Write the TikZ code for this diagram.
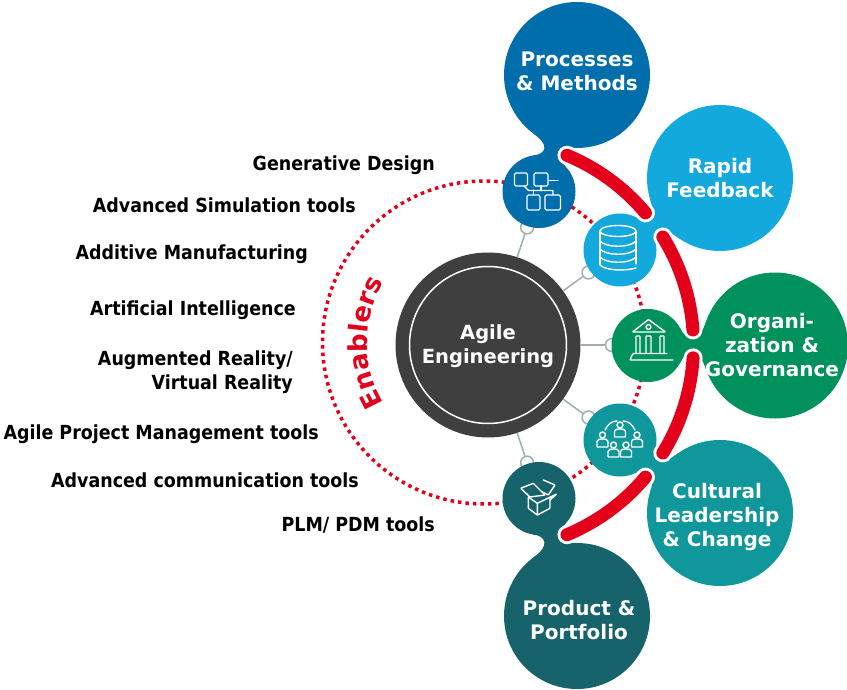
\documentclass[tikz,border=0pt]{standalone}
\usepackage{fontspec}
\usepackage{tikz}
\usetikzlibrary{calc, decorations.text}
\setmainfont{DejaVu Sans}
\newfontfamily\tightfont[FakeStretch=0.9]{DejaVu Sans}

\definecolor{procblue}{RGB}{0,110,170}
\definecolor{rapidblue}{RGB}{20,169,220}
\definecolor{orggreen}{RGB}{0,145,92}
\definecolor{cultteal}{RGB}{15,151,156}
\definecolor{prodteal}{RGB}{23,99,107}
\definecolor{enred}{RGB}{226,0,26}
\definecolor{hubgray}{RGB}{63,63,63}
\definecolor{spokegray}{RGB}{158,174,174}

% Neck between a small circle and its big circle
\newcommand{\neck}[3]{
    \fill[#3] ($(#1)!36.5pt!28:(#2)$) .. controls ($(#1)!38pt!7:(#2)$) and ($(#2)!75pt!-3:(#1)$) .. ($(#2)!73pt!-19:(#1)$)
        -- ($(#2)!73pt!19:(#1)$) .. controls ($(#2)!75pt!3:(#1)$) and ($(#1)!38pt!-7:(#2)$) .. ($(#1)!36.5pt!-28:(#2)$) -- cycle;
}

\begin{document}
\begin{tikzpicture}[
        x=1pt, y=-1pt,
        small/.style={circle, minimum size=73pt, inner sep=0pt},
        big/.style={circle, minimum size=146pt, inner sep=0pt},
        knob/.style={circle, draw=spokegray, fill=white, line width=1.5pt, minimum size=13pt, inner sep=0pt},
        spoke/.style={draw=spokegray, line width=1.5pt},
        bigtext/.style={text=white, align=center, font=\fontsize{20}{24}\selectfont\bfseries},
        tool/.style={text=black, align=right, anchor=east, inner sep=0pt, font=\tightfont\fontsize{19.4}{24}\selectfont\bfseries},
        bar/.style={line width=13pt, line cap=round, draw=enred},
        barhalo/.style={line width=19pt, line cap=round, draw=white},
        dotted ring/.style={draw=enred, line width=3.5pt, dash pattern=on 3.5pt off 4pt},
        icon/.style={draw=white, line width=1.4pt, line join=round, line cap=round, rounded corners=0.6pt},
        person/.pic={
            \draw[icon, fill=cultteal] (-5.5,14) -- (-5.5,9) .. controls (-5.5,5) and (5.5,5) .. (5.5,9) -- (5.5,14) -- cycle;
            \draw[icon, fill=cultteal] (0,2) circle[radius=3pt];
        }
    ]
    \useasboundingbox (0,0) rectangle (847,690);

    \coordinate (hubc) at (488,345);

    % Dotted ring behind the small circles
    \coordinate (ringc) at (484,342.5);
    \draw[dotted ring] (ringc) circle[radius=161.5pt];

    % Knobs on the spokes
    \node[knob] (kproc) at ($(hubc)+(71.6:124pt)$) {};
    \node[knob] (krapid) at ($(hubc)+(35.8:124pt)$) {};
    \node[knob] (korg) at ($(hubc)+(0:124pt)$) {};
    \node[knob] (kcult) at ($(hubc)+(-35.8:124pt)$) {};
    \node[knob] (kprod) at ($(hubc)+(-71.6:124pt)$) {};

    \node[circle, fill=hubgray, minimum size=185pt, inner sep=0pt] (agile) at (hubc) {};
    \draw[spoke] (agile) -- (kproc);
    \draw[spoke] (agile) -- (krapid);
    \draw[spoke] (agile) -- (korg);
    \draw[spoke] (agile) -- (kcult);
    \draw[spoke] (agile) -- (kprod);
    \node[circle, draw=white, line width=1.5pt, minimum size=157pt, inner sep=0pt] (agilering) at (hubc) {};
    \node[bigtext, font=\fontsize{19.5}{24}\selectfont\bfseries] (agiletext) at (488,346) {Agile\\Engineering};

    % Small circles
    \node[small, fill=procblue] (sproc) at (539,191.5) {};
    \node[small, fill=rapidblue] (srapid) at (620,250) {};
    \node[small, fill=orggreen] (sorg) at (648,345.5) {};
    \node[small, fill=cultteal] (scult) at (620,440) {};
    \node[small, fill=prodteal] (sprod) at (539,498.5) {};

    % Big circles
    \node[big, fill=procblue] (bproc) at (577,75) {};
    \node[big, fill=rapidblue] (brapid) at (720,178) {};
    \node[big, fill=orggreen] (borg) at (775,345.5) {};
    \node[big, fill=cultteal] (bcult) at (720,513) {};
    \node[big, fill=prodteal] (bprod) at (577,616) {};

    % Necks
    \neck{sproc}{bproc}{procblue}
    \neck{srapid}{brapid}{rapidblue}
    \neck{sorg}{borg}{orggreen}
    \neck{scult}{bcult}{cultteal}
    \neck{sprod}{bprod}{prodteal}

    % Red bars
    \draw[barhalo] ($(hubc)+(67.4:205.5pt)$) arc[start angle=67.4, end angle=40, radius=205.5pt];
    \draw[barhalo] ($(hubc)+(31.7:205.5pt)$) arc[start angle=31.7, end angle=4.2, radius=205.5pt];
    \draw[barhalo] ($(hubc)+(-3.6:205.5pt)$) arc[start angle=-3.6, end angle=-31.7, radius=205.5pt];
    \draw[barhalo] ($(hubc)+(-40:205.5pt)$) arc[start angle=-40, end angle=-67.4, radius=205.5pt];
    \draw[bar] ($(hubc)+(67.4:205.5pt)$) arc[start angle=67.4, end angle=40, radius=205.5pt];
    \draw[bar] ($(hubc)+(31.7:205.5pt)$) arc[start angle=31.7, end angle=4.2, radius=205.5pt];
    \draw[bar] ($(hubc)+(-3.6:205.5pt)$) arc[start angle=-3.6, end angle=-31.7, radius=205.5pt];
    \draw[bar] ($(hubc)+(-40:205.5pt)$) arc[start angle=-40, end angle=-67.4, radius=205.5pt];

    % Texts in the big circles
    \node[bigtext] (tproc) at (577,71) {Processes\\\& Methods};
    \node[bigtext] (trapid) at (720,178) {Rapid\\Feedback};
    \node[bigtext] (torg) at (772,345) {Organi-\\zation \&\\Governance};
    \node[bigtext] (tcult) at (717,517) {Cultural\\Leadership\\\& Change};
    \node[bigtext] (tprod) at (579,620) {Product \&\\Portfolio};

    % Enablers
    \path[decorate, decoration={text along path, text align=center, text color=enred,
        text={|\fontsize{26}{30}\selectfont\bfseries|Enablers}}]
        ($(ringc)+(211:117pt)$) arc[start angle=211, end angle=149, radius=117pt];

    % Tools on the left
    \node[tool] (tgen) at (435,165) {Generative Design};
    \node[tool] (tsim) at (356,205) {Advanced Simulation tools};
    \node[tool] (tadd) at (308,254) {Additive Manufacturing};
    \node[tool] (tart) at (296,310) {Artificial Intelligence};
    \node[tool] (taug) at (293,372) {Augmented Reality/\\Virtual Reality};
    \node[tool] (tapm) at (319,434) {Agile Project Management tools};
    \node[tool] (tcom) at (359,480) {Advanced communication tools};
    \node[tool] (tplm) at (435,525) {PLM/ PDM tools};

    % Icon: process chart
    \draw[icon, rounded corners=1.5pt] (514.5,173) rectangle (527.5,186);
    \draw[icon, rounded corners=1.5pt] (534,173) rectangle (548,186);
    \draw[icon, rounded corners=1.5pt] (527,195) rectangle (540,210);
    \draw[icon, rounded corners=1.5pt] (545,195) rectangle (560.5,210);
    \draw[icon] (548,180.5) -- (558,180.5);
    \draw[icon] (524,186) -- (528.5,190.5) -- (553,190.5) -- (553,195);
    \draw[icon] (541,186) -- (541,190.5);
    \draw[icon] (533.5,190.5) -- (533.5,195);

    % Icon: database
    \draw[icon] (618,231) ellipse[x radius=18pt, y radius=5.5pt];
    \draw[icon] (600,231) -- (600,265);
    \draw[icon] (636,231) -- (636,264);
    \draw[icon] (600,241) .. controls (606,248) and (630,248) .. (636,241);
    \draw[icon] (600,249) .. controls (606,256) and (630,256) .. (636,249);
    \draw[icon] (600,257) .. controls (606,264) and (630,264) .. (636,257);
    \draw[icon] (600,265) .. controls (606,271) and (626,271) .. (636,268);

    % Icon: building
    \draw[icon] (632.5,332) -- (648.5,319.5) -- (665.5,332) -- cycle;
    \draw[icon] (648.5,327) circle[radius=2.4pt];
    \draw[icon] (636,353) -- (636,336) -- (640,336) -- (640,353);
    \draw[icon] (646,353) -- (646,336) -- (651,336) -- (651,353);
    \draw[icon] (660,353) -- (660,336) -- (664,336) -- (664,353);
    \draw[icon] (667,353.5) -- (634,353.5) .. controls (632,354) and (631,358) .. (630,360) -- (673,360);

    % Icon: people
    \draw[icon] (605,430) .. controls (608,424) and (612,421) .. (617,421);
    \draw[icon] (635,430) .. controls (632,424) and (628,421) .. (623,421);
    \pic at (602.5,433) {person};
    \pic at (637,433) {person};
    \pic at (620,423) {person};
    \pic at (613.5,443) {person};
    \pic at (626,443) {person};

    % Icon: open box
    \draw[icon] (520.7,488.3) -- (533.3,483.3) -- (545,495) -- (530,497) -- cycle;
    \draw[icon] (543.3,480) -- (555,485) -- (548.3,495) -- (541.7,491.7);
    \draw[icon] (537.3,503.3) -- (556.7,494) -- (550,500);
    \draw[icon] (528.3,497) -- (528.3,508.3) -- (537.3,515) -- (550,508.3) -- (550,498.3);
    \draw[icon] (528.3,497) -- (537.3,503.3) -- (537.3,515);
\end{tikzpicture}
\end{document}
